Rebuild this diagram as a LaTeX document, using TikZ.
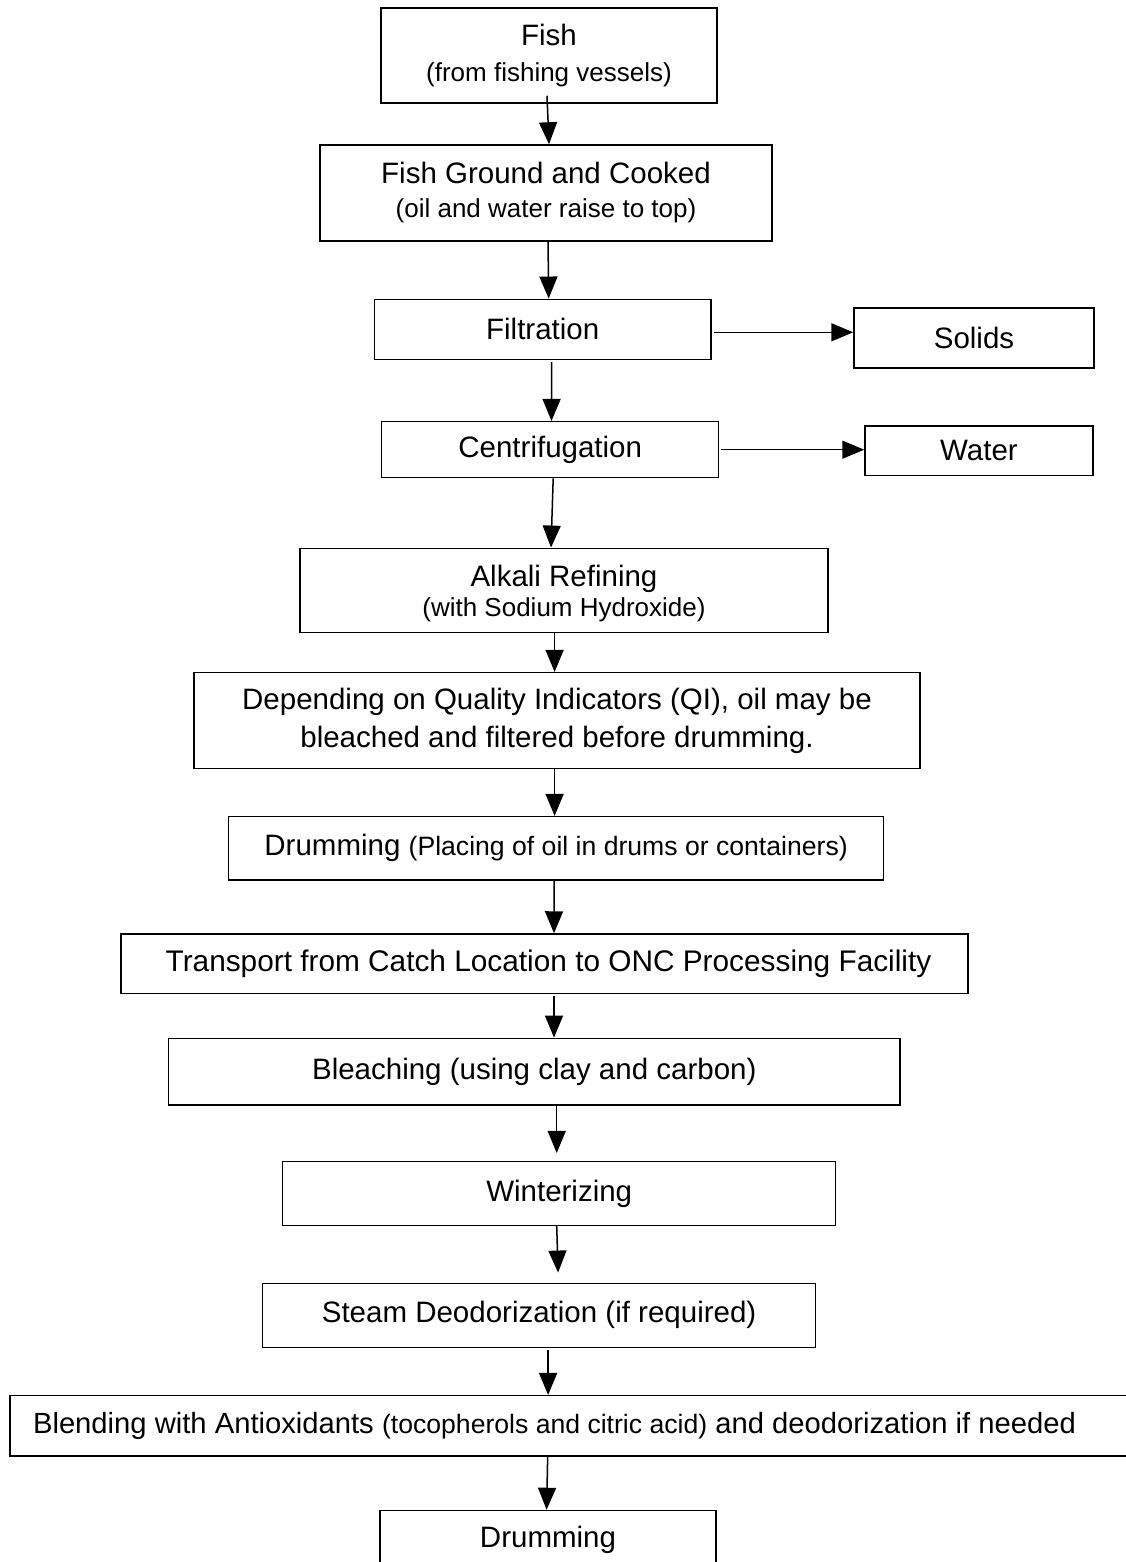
\documentclass[tikz,border=0pt]{standalone}
\usepackage{fontspec}
\setmainfont{Liberation Sans}
\usetikzlibrary{arrows.meta}
\newcommand{\mainsz}{\fontsize{29.5}{34}\selectfont}
\newcommand{\blendsz}{\fontsize{29.2}{34}\selectfont}
\newcommand{\transsz}{\fontsize{29.8}{34}\selectfont}
\newcommand{\smsz}{\fontsize{26}{34}\selectfont}
\newcommand{\smbsz}{\fontsize{26.6}{34}\selectfont}
\begin{document}
\begin{tikzpicture}[x=1pt,y=-1pt,
  procbox/.style={draw, line width=1.5pt, inner sep=0pt, font=\mainsz, align=center},
  arr/.style={line width=1.5pt, -{Triangle[length=22pt,width=18pt]}}]
\useasboundingbox (0,0) rectangle (1125,1562);

\node[procbox, minimum width=336pt, minimum height=95pt] (fish) at (549,55.5)
  {Fish\\[2pt]{\smsz (from fishing vessels)}};
\node[procbox, minimum width=452pt, minimum height=96pt] (fgc) at (546,193)
  {Fish Ground and Cooked\\{\smsz (oil and water raise to top)}};
\node[procbox, minimum width=336.5pt, minimum height=60pt] (filt) at (542.7,329.3) {Filtration};
\node[procbox, minimum width=240pt, minimum height=60pt] (solids) at (974,338) {Solids};
\node[procbox, minimum width=337pt, minimum height=56pt] (centr) at (550.2,449.7) {Centrifugation};
\node[procbox, minimum width=228pt, minimum height=49.7pt] (water) at (979,450.85) {Water};
\node[procbox, minimum width=528pt, minimum height=84.4pt] (alk) at (564,590.5)
  {\rule{0pt}{27.5pt}Alkali Refining\\[-4pt]{\smsz (with Sodium Hydroxide)}};
\node[procbox, minimum width=726pt, minimum height=95.6pt] (dep) at (557,720.5)
  {Depending on Quality Indicators (QI), oil may be\\[4pt]bleached and filtered before drumming.};
\node[procbox, minimum width=655pt, minimum height=63.3pt] (drumA) at (556.1,848.35)
  {Drumming {\smbsz (Placing of oil in drums or containers)}};
\node[procbox, minimum width=847pt, minimum height=59.3pt, font=\transsz] (trans) at (544.5,963.65)
  {\hspace*{8pt}Transport from Catch Location to ONC Processing Facility};
\node[procbox, minimum width=731.4pt, minimum height=66.7pt] (bleach) at (534.3,1071.65)
  {Bleaching (using clay and carbon)};
\node[procbox, minimum width=553pt, minimum height=63.6pt] (wint) at (559.2,1193.5) {Winterizing};
\node[procbox, minimum width=553pt, minimum height=64pt] (steam) at (539.1,1315.3)
  {Steam Deodorization (if required)};
\node[procbox, anchor=west, inner xsep=23pt, font=\blendsz,
  minimum height=60.3pt] (blend) at (9.3,1425.85)
  {\makebox[1080pt][l]{Blending with Antioxidants {\smbsz (tocopherols and citric acid)} and deodorization if needed}};
\node[procbox, minimum width=336pt, minimum height=59pt] (drumB) at (548,1540) {Drumming};

\draw[arr] ([xshift=-2pt,yshift=8pt]fish.south) -- ([xshift=3pt]fgc.north);
\draw[arr] ([xshift=2pt]fgc.south) -- ([xshift=6pt]filt.north);
\draw[arr] ([xshift=9pt,yshift=-2pt]filt.south) -- ([xshift=1.3pt]centr.north);
\draw[arr] ([xshift=2pt,yshift=-3pt]filt.east) -- ([yshift=-3pt]filt.east -| solids.west);
\draw[arr] ([xshift=2pt]centr.east) -- (centr.east -| water.west);
\draw[arr] ([xshift=3pt]centr.south) -- ([xshift=-13pt]alk.north);
\draw[arr] ([xshift=-9.4pt]alk.south) -- ([xshift=-2.4pt]dep.north);
\draw[arr] ([xshift=-2.4pt]dep.south) -- ([xshift=-1.5pt]drumA.north);
\draw[arr] ([xshift=-2pt]drumA.south) -- ([xshift=9.5pt]trans.north);
\draw[arr] ([xshift=9.5pt,yshift=-2pt]trans.south) -- ([xshift=19.7pt]bleach.north);
\draw[arr] ([xshift=22.4pt]bleach.south) -- ([xshift=-2.5pt,yshift=8pt]wint.north);
\draw[arr] ([xshift=-2.5pt]wint.south) -- ([xshift=19pt,yshift=10pt]steam.north);
\draw[arr] ([xshift=9pt,yshift=-2pt]steam.south) -- ([xshift=9pt]steam.south |- blend.north);
\draw[arr] ([xshift=-25.4pt]blend.south) -- ([xshift=-1.4pt]drumB.north);
\end{tikzpicture}
\end{document}
